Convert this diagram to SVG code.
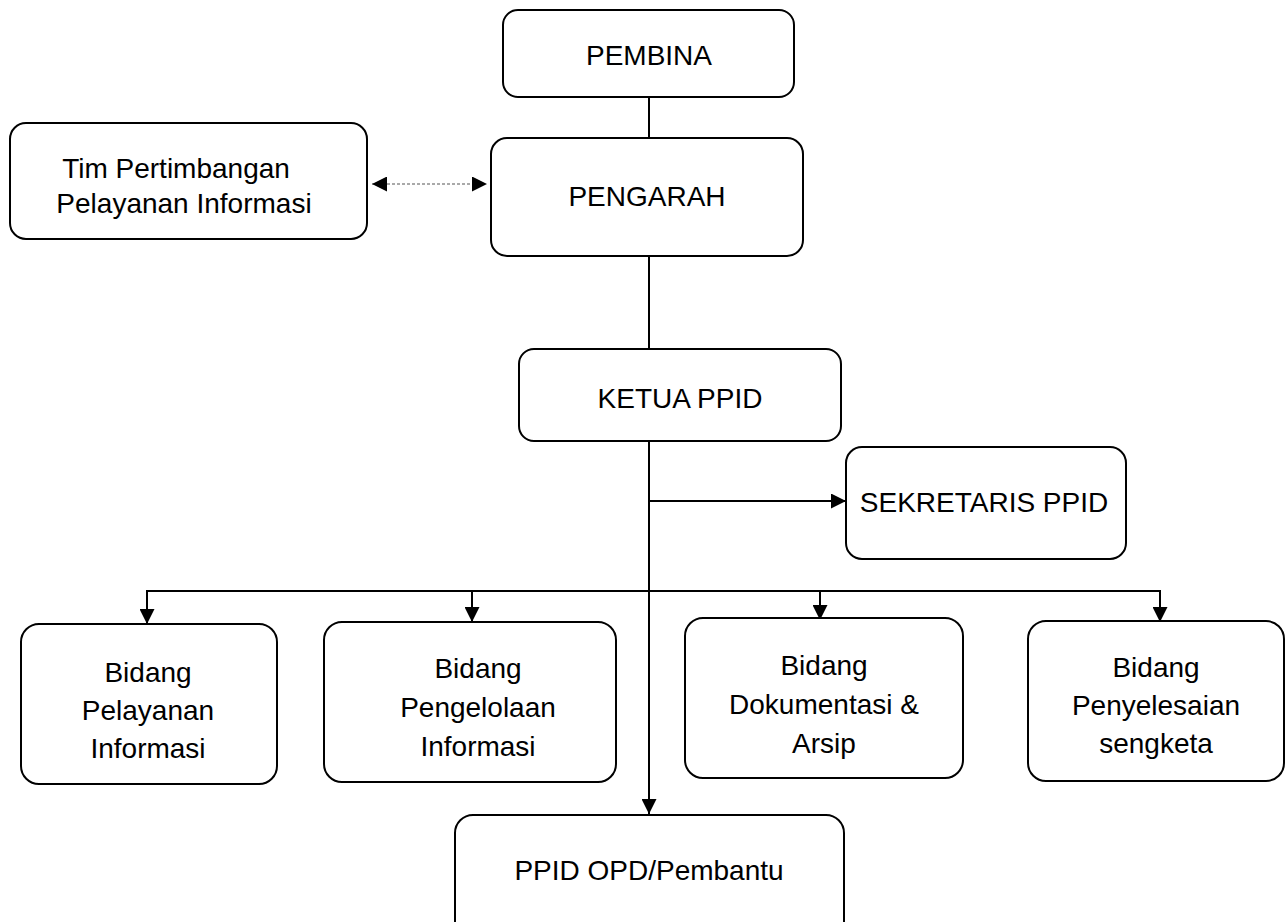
<svg xmlns="http://www.w3.org/2000/svg" width="1287" height="922" viewBox="0 0 1287 922">
<style>
.box{fill:#fff;stroke:#000;stroke-width:2}
.t{font-family:"Liberation Sans",Arial,sans-serif;font-size:28px;fill:#000;text-anchor:middle}
.c{fill:none;stroke:#000;stroke-width:2}
.d{fill:none;stroke:#555;stroke-width:1.2;stroke-dasharray:3 2}
</style>
<defs>
<marker id="ah" viewBox="0 0 15 15" refX="15" refY="7.5" markerWidth="15" markerHeight="15" markerUnits="userSpaceOnUse" orient="auto-start-reverse"><path d="M0,0 L15,7.5 L0,15 z" fill="#000"/></marker>
</defs>
<rect width="1287" height="922" fill="#fff"/>
<g id="connectors">
<path class="c" d="M649,97 V138"/>
<path class="c" d="M649,256 V349"/>
<path class="c" d="M649,441 V814" marker-end="url(#ah)"/>
<path class="c" d="M649,501 H846" marker-end="url(#ah)"/>
<path class="c" d="M147,591 H1160"/>
<path class="c" d="M147,590 V624" marker-end="url(#ah)"/>
<path class="c" d="M472,590 V622" marker-end="url(#ah)"/>
<path class="c" d="M820,590 V620" marker-end="url(#ah)"/>
<path class="c" d="M1160,590 V622" marker-end="url(#ah)"/>
<path class="d" d="M372,184 H487" marker-start="url(#ah)" marker-end="url(#ah)"/>
</g>
<g id="pembina">
<rect class="box" x="503" y="10" width="291" height="87" rx="15"/>
<text class="t" x="649" y="65">PEMBINA</text>
</g>
<g id="pengarah">
<rect class="box" x="491" y="138" width="312" height="118" rx="16"/>
<text class="t" x="647" y="206">PENGARAH</text>
</g>
<g id="tim">
<rect class="box" x="10" y="123" width="357" height="116" rx="16"/>
<text class="t" x="176" y="178">Tim Pertimbangan</text>
<text class="t" x="184" y="213">Pelayanan Informasi</text>
</g>
<g id="ketua">
<rect class="box" x="519" y="349" width="322" height="92" rx="15"/>
<text class="t" x="680" y="408">KETUA PPID</text>
</g>
<g id="sekretaris">
<rect class="box" x="846" y="447" width="280" height="112" rx="16"/>
<text class="t" x="984" y="512">SEKRETARIS PPID</text>
</g>
<g id="bidang-pelayanan">
<rect class="box" x="21" y="624" width="256" height="160" rx="18"/>
<text class="t" x="148" y="682">Bidang</text>
<text class="t" x="148" y="720">Pelayanan</text>
<text class="t" x="148" y="758">Informasi</text>
</g>
<g id="bidang-pengelolaan">
<rect class="box" x="324" y="622" width="292" height="160" rx="18"/>
<text class="t" x="478" y="678">Bidang</text>
<text class="t" x="478" y="717">Pengelolaan</text>
<text class="t" x="478" y="756">Informasi</text>
</g>
<g id="bidang-dokumentasi">
<rect class="box" x="685" y="618" width="278" height="160" rx="18"/>
<text class="t" x="824" y="675">Bidang</text>
<text class="t" x="824" y="714">Dokumentasi &amp;</text>
<text class="t" x="824" y="753">Arsip</text>
</g>
<g id="bidang-penyelesaian">
<rect class="box" x="1028" y="621" width="256" height="160" rx="18"/>
<text class="t" x="1156" y="677">Bidang</text>
<text class="t" x="1156" y="715">Penyelesaian</text>
<text class="t" x="1156" y="753">sengketa</text>
</g>
<g id="ppid-opd">
<rect class="box" x="455" y="815" width="389" height="130" rx="18"/>
<text class="t" x="649" y="880">PPID OPD/Pembantu</text>
</g>
</svg>
